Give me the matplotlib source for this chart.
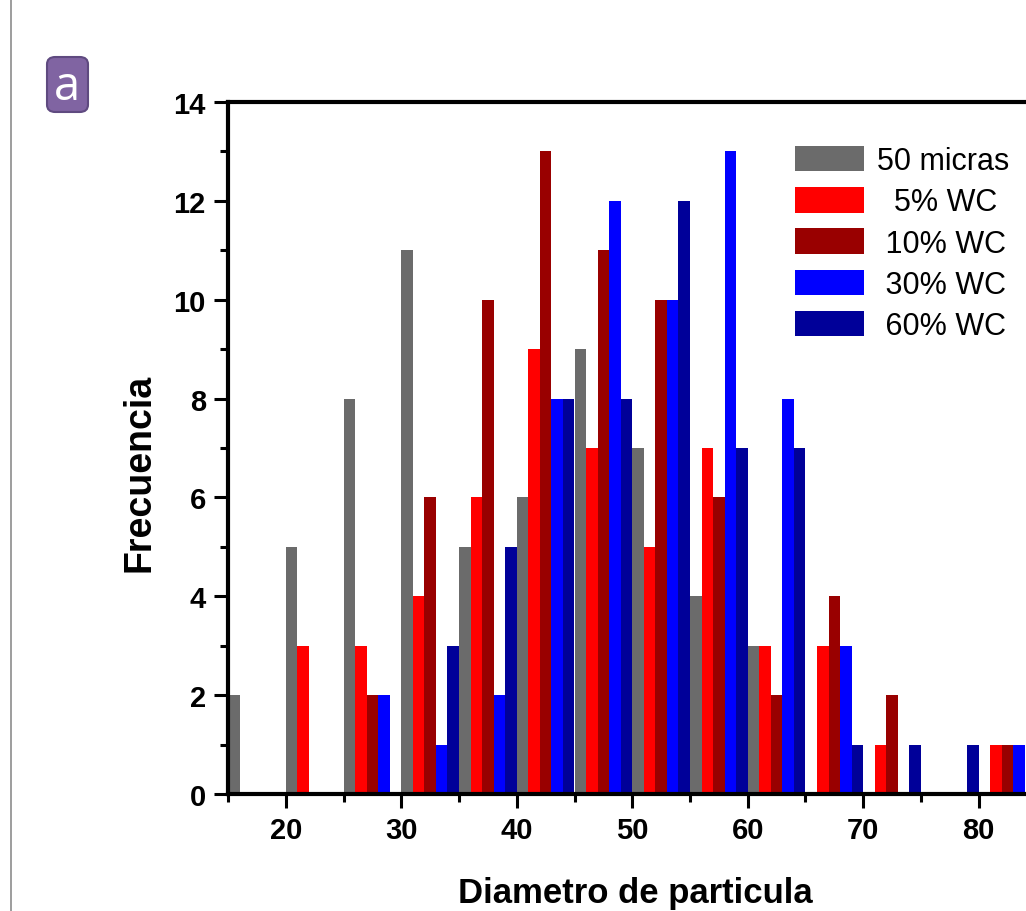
import numpy as np
import matplotlib.pyplot as plt
from matplotlib.patches import FancyBboxPatch
from matplotlib.lines import Line2D
from matplotlib.ticker import MultipleLocator

# bin starts (particle diameter, micras)
bins = np.array([15, 20, 25, 30, 35, 40, 45, 50, 55, 60, 65, 70, 75, 80])

# frequencies per series
micras50 = [2, 5, 8, 11, 5, 6, 9, 7, 4, 3, 0, 0, 0, 0]
wc5 = [0, 3, 3, 4, 6, 9, 7, 5, 7, 3, 3, 1, 0, 1]
wc10 = [0, 0, 2, 6, 10, 13, 11, 10, 6, 2, 4, 2, 0, 1]
wc30 = [0, 0, 2, 1, 2, 8, 12, 10, 13, 8, 3, 0, 0, 1]
wc60 = [0, 0, 0, 3, 5, 8, 8, 12, 7, 7, 1, 1, 1, 0]

series = [micras50, wc5, wc10, wc30, wc60]
labels = ['50 micras', '  5% WC', ' 10% WC', ' 30% WC', ' 60% WC']
colors = ['#6b6b6b', '#ff0000', '#990000', '#0000ff', '#000099']

plt.rcParams['font.family'] = ['Liberation Sans', 'DejaVu Sans']

fig = plt.figure(figsize=(10.26, 9.12), dpi=100)
ax = fig.add_axes([228 / 1026, 0.1283, 808.5 / 1026, 0.7588])

for i, (vals, lab, col) in enumerate(zip(series, labels, colors)):
    ax.bar(bins + i, vals, width=1, align='edge', color=col, label=lab, zorder=2)

ax.set_xlim(15, 85)
ax.set_ylim(0, 14)
ax.xaxis.set_major_locator(MultipleLocator(10))
ax.xaxis.set_minor_locator(MultipleLocator(5))
ax.yaxis.set_major_locator(MultipleLocator(2))
ax.yaxis.set_minor_locator(MultipleLocator(1))
ax.tick_params(which='major', direction='out', length=10, width=2.2, labelsize=21, pad=6)
ax.tick_params(which='minor', direction='out', length=5.5, width=2.2)
for lbl in ax.get_xticklabels() + ax.get_yticklabels():
    lbl.set_fontweight('bold')
for sp in ax.spines.values():
    sp.set_linewidth(3)
    sp.set_zorder(3)

fig.text(139 / 1026, 1 - 473 / 912, 'Frecuencia', rotation=90, fontsize=27,
         fontweight='bold', ha='center', va='center')
fig.text(635 / 1026, 1 - 903 / 912, 'Diametro de particula', fontsize=25,
         fontweight='bold', ha='center', va='baseline')

leg = ax.legend(loc='upper left', bbox_to_anchor=(795 / 1026, 1 - 147 / 912),
                bbox_transform=fig.transFigure, frameon=False, fontsize=22,
                handlelength=2.25, handleheight=0.9, handletextpad=0.42,
                labelspacing=0.36, borderpad=0, borderaxespad=0)

# panel letter
box = FancyBboxPatch((47 / 1026, 1 - 113 / 912), 41 / 1026, 55 / 912,
                     boxstyle='round,pad=0,rounding_size=0.008',
                     transform=fig.transFigure, facecolor='#8064a2',
                     edgecolor='#5f4a80', linewidth=1.5)
fig.patches.append(box)
fig.text(67.5 / 1026, 1 - 87 / 912, 'a', color='white', fontsize=34,
         family='Open Sans', ha='center', va='center')

# thin page border at the left
fig.add_artist(Line2D([11 / 1026, 11 / 1026], [0, 1], color='#8c8c8c',
                      linewidth=1.2, transform=fig.transFigure))

fig.savefig('out.png', dpi=100)
